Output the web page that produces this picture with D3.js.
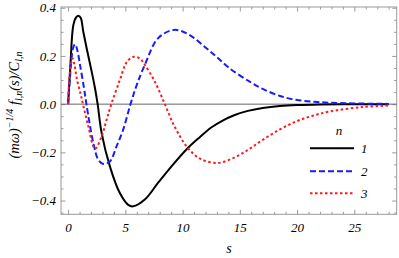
<!DOCTYPE html>
<html><head><meta charset="utf-8">
<script src="https://cdn.jsdelivr.net/npm/d3@7"></script>
<style>body{margin:0;background:#fff}svg{display:block}</style>
</head><body>
<svg id="c" width="399" height="258"></svg>
<script>
const seriesNames = ["1","2","3"];
const s1 = [0,0.2,0.46,0.7,0.9,1.1,1.33,1.62,2.06,2.35,2.58,2.93,3.65,4.52,5.25,5.68,6.7,7.85,9.16,10.46,11.5,12.5,13.5,14.5,15.7,17,18.5,20,22,24,26,28];
const v1 = [0,0.16,0.328,0.36,0.367,0.358,0.3,0.232,0.135,0.066,0,-0.12,-0.258,-0.369,-0.418,-0.424,-0.396,-0.327,-0.251,-0.182,-0.137,-0.097,-0.068,-0.046,-0.028,-0.016,-0.008,-0.004,-0.0015,-0.0005,-0.0002,0];
const s2 = [0,0.15,0.3,0.45,0.61,0.8,1.04,1.39,1.6,2.2,2.64,3.07,3.65,4.23,4.81,5.45,6.0,6.7,7.85,9.25,10.5,12,13,14.1,15.9,17,18.5,19.9,21.5,22.8,25,28];
const v2 = [0,0.1,0.19,0.235,0.248,0.225,0.163,0.066,0,-0.16,-0.231,-0.248,-0.238,-0.175,-0.106,0,0.08,0.163,0.273,0.308,0.29,0.235,0.195,0.149,0.092,0.063,0.034,0.018,0.01,0.006,0.003,0.001];
const s3 = [0,0.15,0.38,0.55,0.75,1.1,1.3,1.77,2.35,2.93,3.36,3.8,4.52,4.96,5.25,5.77,6.3,6.7,7.57,8.45,9.3,10.46,11.6,13.07,14.5,15.7,17,18.5,19.9,21.3,22.8,25.7,28];
const v3 = [0,0.13,0.19,0.165,0.108,0.04,0,-0.093,-0.185,-0.134,-0.065,0.004,0.1,0.16,0.182,0.197,0.188,0.163,0.094,0,-0.093,-0.182,-0.228,-0.244,-0.222,-0.19,-0.148,-0.105,-0.072,-0.049,-0.031,-0.012,-0.006];
const xMajor = [0,5,10,15,20,25];
const yMajor = [-0.4,-0.2,0,0.2,0.4];
const yLabels = ["\u22120.4","\u22120.2","0.0","0.2","0.4"];

const svg = d3.select("#c");
const L=61, R=396.7, T=7, B=214.3;
const x = d3.scaleLinear().domain([-0.62,28.7]).range([L,R]);
const y = d3.scaleLinear().domain([-0.457,0.403]).range([B,T]);
const font = "'Liberation Serif','DejaVu Serif',serif";
const tickColor = "#999";

svg.append("rect").attr("x",L).attr("y",T).attr("width",R-L).attr("height",B-T)
  .attr("fill","none").attr("stroke",tickColor).attr("stroke-width",1);

const xMinor = d3.range(0,29,1).filter(v=>!xMajor.includes(v));
const yMinor = d3.range(-0.45,0.401,0.05).map(v=>+v.toFixed(2)).filter(v=>!yMajor.some(m=>Math.abs(m-v)<1e-6));

function styleAxis(g){
  g.select(".domain").remove();
  g.selectAll(".tick line").attr("stroke",tickColor);
  g.selectAll("text").attr("font-family",font).attr("font-style","italic").attr("font-size",13).attr("fill","#000");
}
svg.append("g").attr("transform",`translate(0,${B})`)
  .call(d3.axisBottom(x).tickValues(xMajor).tickSize(-4.5).tickPadding(8).tickFormat(d3.format("d"))).call(styleAxis);
svg.append("g").attr("transform",`translate(0,${B})`)
  .call(d3.axisBottom(x).tickValues(xMinor).tickSize(-2.5).tickFormat("")).call(styleAxis);
svg.append("g").attr("transform",`translate(0,${T})`)
  .call(d3.axisTop(x).tickValues(xMajor).tickSize(-4.5).tickFormat("")).call(styleAxis);
svg.append("g").attr("transform",`translate(0,${T})`)
  .call(d3.axisTop(x).tickValues(xMinor).tickSize(-2.5).tickFormat("")).call(styleAxis);
svg.append("g").attr("transform",`translate(${L},0)`)
  .call(d3.axisLeft(y).tickValues(yMajor).tickSize(-4.5).tickPadding(5).tickFormat((d,i)=>yLabels[i])).call(styleAxis);
svg.append("g").attr("transform",`translate(${L},0)`)
  .call(d3.axisLeft(y).tickValues(yMinor).tickSize(-2.5).tickFormat("")).call(styleAxis);
svg.append("g").attr("transform",`translate(${R},0)`)
  .call(d3.axisRight(y).tickValues(yMajor).tickSize(-4.5).tickFormat("")).call(styleAxis);
svg.append("g").attr("transform",`translate(${R},0)`)
  .call(d3.axisRight(y).tickValues(yMinor).tickSize(-2.5).tickFormat("")).call(styleAxis);

svg.append("line").attr("x1",L).attr("x2",R).attr("y1",y(0)).attr("y2",y(0))
  .attr("stroke","#666").attr("stroke-width",1);

const series = [
  {s:s1,v:v1,color:"#000",dash:null},
  {s:s2,v:v2,color:"#1a1aff",dash:"6,3"},
  {s:s3,v:v3,color:"#ff1a1a",dash:"2.5,2.5"}
];
const line = d3.line().x(d=>x(d[0])).y(d=>y(d[1])).curve(d3.curveCatmullRom.alpha(0.5));
series.forEach(se=>{
  const pts = se.s.map((s,i)=>[s,se.v[i]]);
  const p = svg.append("path").attr("d",line(pts)).attr("fill","none")
    .attr("stroke",se.color).attr("stroke-width",2);
  if(se.dash) p.attr("stroke-dasharray",se.dash);
});

svg.append("text").attr("x",339).attr("y",135).attr("text-anchor","middle")
  .attr("font-family",font).attr("font-style","italic").attr("font-size",13).text("n");
const ly=[148.3,171.3,193.3];
series.forEach((se,i)=>{
  const l = svg.append("line").attr("x1",310).attr("x2",354).attr("y1",ly[i]).attr("y2",ly[i])
    .attr("stroke",se.color).attr("stroke-width",2);
  if(se.dash) l.attr("stroke-dasharray",se.dash);
  svg.append("text").attr("x",361).attr("y",ly[i]+4.5).attr("font-family",font)
    .attr("font-style","italic").attr("font-size",13).text(seriesNames[i]);
});

svg.append("text").attr("x",229).attr("y",253).attr("text-anchor","middle")
  .attr("font-family",font).attr("font-style","italic").attr("font-size",14).text("s");
const yt = svg.append("text").attr("transform","translate(19,105) rotate(-90)")
  .attr("text-anchor","middle").attr("font-family",font).attr("font-style","italic").attr("font-size",14.5);
yt.append("tspan").text("(m\u03c9)");
yt.append("tspan").attr("font-size",10).attr("dy",-6).text("\u22121/4");
yt.append("tspan").attr("dy",6).text(" f");
yt.append("tspan").attr("font-size",10).attr("dy",3).text("l,n");
yt.append("tspan").attr("dy",-3).text("(s)/C");
yt.append("tspan").attr("font-size",10).attr("dy",3).text("l,n");
</script>
</body></html>
